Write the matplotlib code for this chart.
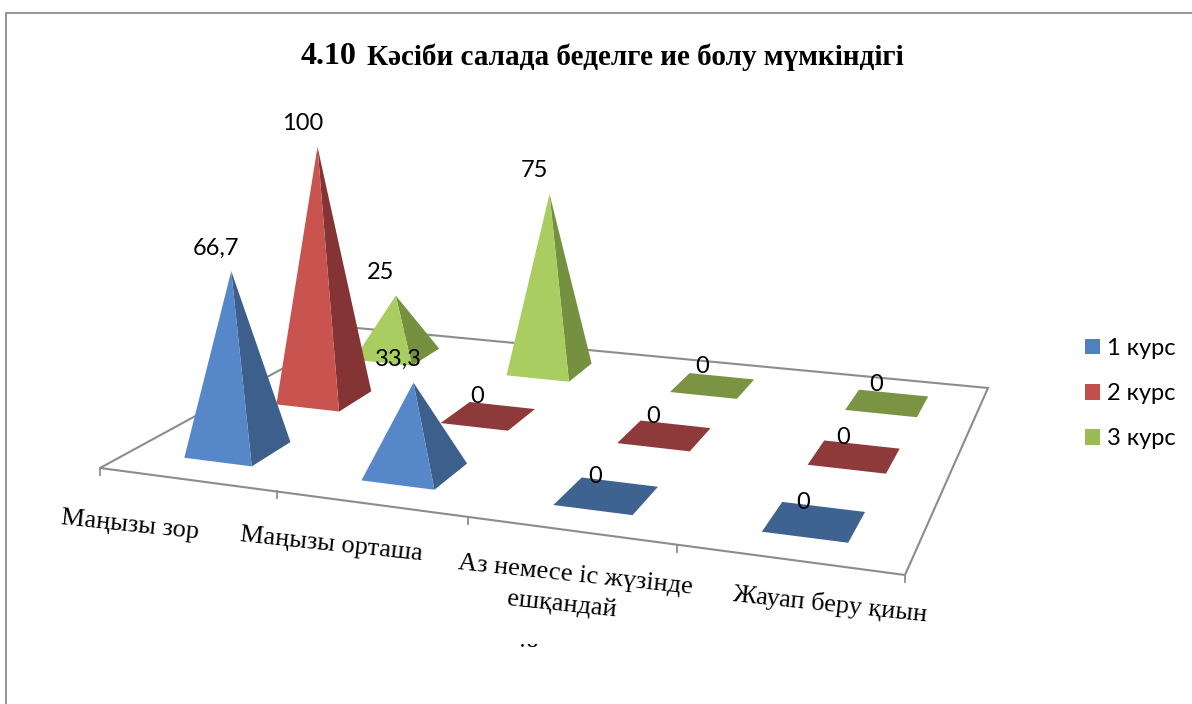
import matplotlib
matplotlib.use("Agg")
import matplotlib.pyplot as plt
from matplotlib.patches import Patch, Polygon, Rectangle
import numpy as np

# данные
categories = ["Маңызы зор", "Маңызы орташа", "Аз немесе іс жүзінде\nешқандай", "Жауап беру қиын"]
series_names = ["1 курс", "2 курс", "3 курс"]
kurs1 = [66.7, 33.3, 0, 0]
kurs2 = [100, 0, 0, 0]
kurs3 = [25, 75, 0, 0]
value_labels = [["66,7", "33,3", "0", "0"], ["100", "0", "0", "0"], ["25", "75", "0", "0"]]

front_colors = ["#5687c8", "#c9534f", "#a9cd60"]
side_colors = ["#3c5f8c", "#843434", "#75913f"]
flat_colors = ["#3e6390", "#8e3a3a", "#7a9443"]
legend_colors = ["#4f81bd", "#c0504d", "#9bbb59"]
line_color = "#8c8c8c"
serif = ["Liberation Serif", "DejaVu Serif"]

# углы пола в пикселях
floor_src = [(0, 0), (4, 0), (4, 3), (0, 3)]
floor_dst = [(100, 468), (905, 575), (988, 388), (357, 328)]


def getHomography(src, dst):
    m = []
    b = []
    for (u, v), (x, y) in zip(src, dst):
        m.append([u, v, 1, 0, 0, 0, -u * x, -v * x])
        m.append([0, 0, 0, u, v, 1, -u * y, -v * y])
        b += [x, y]
    return np.append(np.linalg.solve(np.array(m, float), np.array(b, float)), 1).reshape(3, 3)


H = getHomography(floor_src, floor_dst)


def project(u, v):
    p = H @ np.array([u, v, 1.0])
    return p[:2] / p[2]


def getBase(cat, ser):
    # углы основания: перед-лево, перед-право, зад-право, зад-лево
    du = 0.195
    dv = 0.21
    u = cat + 0.51
    v = ser + 0.5
    return [project(u - du, v - dv), project(u + du, v - dv), project(u + du, v + dv), project(u - du, v + dv)]


def getApex(cat, ser, val):
    c = project(cat + 0.51, ser + 0.5)
    h = val * (2.68 - 0.17 * ser)
    return np.array([c[0] + (c[0] - 550) * h / 8200, c[1] - h])


fig = plt.figure(figsize=(11.92, 7.04), dpi=100)
ax = fig.add_axes([0, 0, 1, 1])
ax.set_xlim(0, 1192)
ax.set_ylim(704, 0)
ax.axis("off")

# рамка
ax.plot([6, 6, 1192], [704, 13, 13], color=line_color, lw=1.3, solid_joinstyle="miter")

# пол и деления
ax.add_patch(Polygon(floor_dst, closed=True, fill=False, ec=line_color, lw=1.5, zorder=1))
for i in range(5):
    t = project(i, 0)
    ax.plot([t[0], t[0]], [t[1], t[1] + 7], color=line_color, lw=1.3, zorder=1)

# пирамиды, от дальнего ряда к ближнему
values = [kurs1, kurs2, kurs3]
z = 2
for s in [2, 1, 0]:
    for c in range(len(categories)):
        base = getBase(c, s)
        val = values[s][c]
        if val == 0:
            ax.add_patch(Polygon(base, closed=True, fc=flat_colors[s], ec="none", zorder=z))
        else:
            apex = getApex(c, s, val)
            ax.add_patch(Polygon([base[1], base[2], apex], closed=True, fc=side_colors[s], ec="none", zorder=z))
            ax.add_patch(Polygon([base[0], base[1], apex], closed=True, fc=front_colors[s], ec="none", zorder=z))
        z += 1

# подписи значений
for s in range(3):
    for c in range(len(categories)):
        a = getApex(c, s, values[s][c])
        if values[s][c] > 0:
            dx, dy = -15, -23
        else:
            dx, dy = -11, -19
        ax.text(a[0] + dx, a[1] + dy, value_labels[s][c], family="Lato", fontsize=17,
                ha="center", va="center", color="black", zorder=50)

# подписи категорий
label_pos = [(130, 525), (331, 545), (575, 575), (830, 604)]
for c, name in enumerate(categories):
    for i, line in enumerate(name.split("\n")):
        ax.text(label_pos[c][0] - 13 * i, label_pos[c][1] + 30 * i, line, family=serif, fontsize=19,
                rotation=-6, rotation_mode="anchor", ha="center", va="center", color="black")

# обрезанный кусок текста внизу
stub = ax.text(529, 655, "ій", family=serif, fontsize=19, ha="center", va="center", color="black", clip_on=True)
stub.set_clip_path(Rectangle((500, 644), 60, 4, transform=ax.transData))

# заголовок
ax.text(301, 57, "4.10", family=serif, fontsize=23, fontweight="bold", ha="left", va="center")
ax.text(367, 57.5, "Кәсіби салада беделге ие болу мүмкіндігі", family=serif, fontsize=21, fontweight="bold",
        ha="left", va="center")

# легенда
handles = [Patch(fc=col, ec="none", label=name) for col, name in zip(legend_colors, series_names)]
leg = ax.legend(handles=handles, loc="center left", bbox_to_anchor=(1085 / 1192, 1 - 393.5 / 704), frameon=False,
                prop={"family": "Lato", "size": 17}, handlelength=0.64, handleheight=0.64, handletextpad=0.3,
                labelspacing=1.03, borderpad=0, borderaxespad=0)

fig.savefig("out.png", dpi=100)
